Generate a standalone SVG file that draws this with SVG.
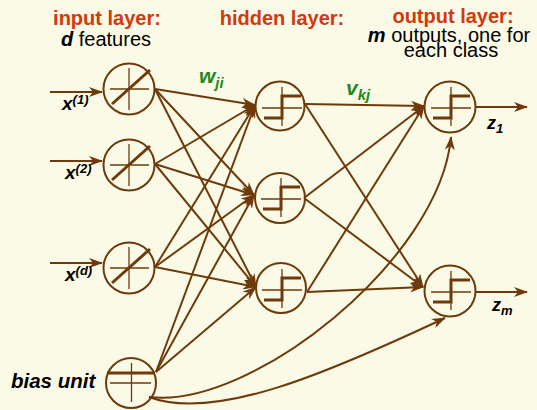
<svg xmlns="http://www.w3.org/2000/svg" xmlns:xlink="http://www.w3.org/1999/xlink" width="537" height="410" viewBox="0 0 537 410">
  <style>
    .bg { fill: #fafae6; }
    .node { fill: none; stroke: #6e3a0c; stroke-width: 2; }
    .thin { stroke: #6e3a0c; stroke-width: 1.3; fill: none; }
    .thick { stroke: #6e3a0c; stroke-width: 3; fill: none; }
    .edge { stroke: #6e3a0c; stroke-width: 2; fill: none; marker-end: url(#arrow); }
    .title { font-family: "Liberation Sans", Arial, sans-serif; font-size: 20px; font-weight: bold; fill: #d2390e; }
    .sub { font-family: "Liberation Sans", Arial, sans-serif; font-size: 20px; fill: #000; }
    .var { font-family: "Liberation Sans", Arial, sans-serif; font-weight: bold; font-style: italic; fill: #000; }
    .wt { font-family: "Liberation Sans", Arial, sans-serif; font-weight: bold; font-style: italic; fill: #1e8a1e; }
  </style>
  <defs>
    <marker id="arrow" viewBox="0 0 14 10" refX="13" refY="5" markerWidth="14" markerHeight="10" markerUnits="userSpaceOnUse" orient="auto">
      <path d="M0,0 L14,5 L0,10 L4,5 Z" fill="#6e3a0c"/>
    </marker>
    <!-- linear unit: axes plus identity diagonal -->
    <g id="linSym">
      <line class="thin" x1="-19" y1="0" x2="20" y2="0"/>
      <line class="thin" x1="0" y1="-21" x2="0" y2="21"/>
      <line class="thick" x1="-17" y1="15" x2="21" y2="-19"/>
    </g>
    <!-- threshold unit: axes plus step function -->
    <g id="stepSym">
      <line class="thin" x1="-19" y1="1" x2="21" y2="1"/>
      <line class="thin" x1="1" y1="-20" x2="1" y2="19"/>
      <path class="thick" d="M-17,11 H1 V-11 H20"/>
    </g>
  </defs>

  <rect class="bg" x="0" y="0" width="537" height="410"/>

  <!-- layer headings -->
  <g id="headings">
    <text class="title" x="107" y="25" text-anchor="middle">input layer:</text>
    <text class="sub" x="106" y="46" text-anchor="middle"><tspan font-weight="bold" font-style="italic">d</tspan> features</text>
    <text class="title" x="282" y="25" text-anchor="middle">hidden layer:</text>
    <text class="title" x="453" y="23" text-anchor="middle">output layer:</text>
    <text class="sub" x="449" y="42" text-anchor="middle" font-size="19.5"><tspan font-weight="bold" font-style="italic">m</tspan> outputs, one for</text>
    <text class="sub" x="451" y="57" text-anchor="middle" font-size="19.5">each class</text>
  </g>

  <!-- connectors -->
  <g id="connectors">
    <!-- external inputs -->
    <line class="edge" x1="50" y1="92" x2="102" y2="92"/>
    <line class="edge" x1="50" y1="161" x2="102" y2="161"/>
    <line class="edge" x1="50" y1="263" x2="102" y2="263"/>
    <!-- input to hidden -->
    <line class="edge" x1="155" y1="89" x2="255" y2="105"/>
    <line class="edge" x1="155" y1="89" x2="254" y2="195"/>
    <line class="edge" x1="155" y1="89" x2="256" y2="287"/>
    <line class="edge" x1="155" y1="164" x2="255" y2="105"/>
    <line class="edge" x1="155" y1="164" x2="254" y2="195"/>
    <line class="edge" x1="155" y1="164" x2="256" y2="287"/>
    <line class="edge" x1="155" y1="267" x2="255" y2="105"/>
    <line class="edge" x1="155" y1="267" x2="254" y2="195"/>
    <line class="edge" x1="155" y1="267" x2="256" y2="287"/>
    <line class="edge" x1="156" y1="372" x2="255" y2="105"/>
    <line class="edge" x1="156" y1="372" x2="254" y2="195"/>
    <line class="edge" x1="156" y1="372" x2="256" y2="287"/>
    <!-- hidden to output -->
    <line class="edge" x1="305" y1="104" x2="424" y2="106"/>
    <line class="edge" x1="305" y1="104" x2="423" y2="287"/>
    <line class="edge" x1="304" y1="198" x2="424" y2="106"/>
    <line class="edge" x1="304" y1="198" x2="423" y2="287"/>
    <line class="edge" x1="307" y1="292" x2="424" y2="106"/>
    <line class="edge" x1="307" y1="292" x2="423" y2="287"/>
    <!-- bias to output -->
    <path class="edge" d="M149,397 C250,410 440,260 451,137"/>
    <path class="edge" d="M149,397 C215,422 330,372 445,318"/>
    <!-- outputs -->
    <line class="edge" x1="476" y1="107" x2="527" y2="107"/>
    <line class="edge" x1="476" y1="292" x2="527" y2="292"/>
  </g>

  <!-- input units -->
  <g id="input1">
    <circle class="node" cx="129" cy="89" r="25.5"/>
    <use xlink:href="#linSym" x="129" y="89"/>
    <text class="var" x="62" y="110" font-size="19">x<tspan font-size="13" dy="-6">(1)</tspan></text>
  </g>
  <g id="input2">
    <circle class="node" cx="129" cy="165" r="25.5"/>
    <use xlink:href="#linSym" x="129" y="165"/>
    <text class="var" x="65" y="179" font-size="19">x<tspan font-size="13" dy="-6">(2)</tspan></text>
  </g>
  <g id="input3">
    <circle class="node" cx="129" cy="268" r="25.5"/>
    <use xlink:href="#linSym" x="129" y="268"/>
    <text class="var" x="65" y="281" font-size="19">x<tspan font-size="13" dy="-6">(d)</tspan></text>
  </g>
  <g id="bias">
    <circle class="node" cx="131" cy="383" r="25"/>
    <line class="thick" x1="107" y1="373" x2="155" y2="373"/>
    <line class="thin" x1="110" y1="383" x2="151" y2="383"/>
    <line class="thin" x1="131.5" y1="363" x2="131.5" y2="402"/>
    <text class="var" x="11" y="388" font-size="20.5">bias unit</text>
  </g>

  <!-- hidden units -->
  <g id="hidden1">
    <circle class="node" cx="280" cy="106" r="24.5"/>
    <use xlink:href="#stepSym" x="281" y="107"/>
  </g>
  <g id="hidden2">
    <circle class="node" cx="280" cy="198" r="25"/>
    <use xlink:href="#stepSym" x="280" y="198"/>
  </g>
  <g id="hidden3">
    <circle class="node" cx="281" cy="288" r="25"/>
    <use xlink:href="#stepSym" x="281" y="289"/>
  </g>

  <!-- output units -->
  <g id="output1">
    <circle class="node" cx="450" cy="107" r="25.5"/>
    <use xlink:href="#stepSym" x="450" y="107"/>
    <text class="var" x="487" y="129" font-size="18">z<tspan font-size="13" dy="4">1</tspan></text>
  </g>
  <g id="outputm">
    <circle class="node" cx="450" cy="291" r="25.5"/>
    <use xlink:href="#stepSym" x="450" y="291"/>
    <text class="var" x="492" y="311" font-size="18">z<tspan font-size="13" dy="4">m</tspan></text>
  </g>

  <!-- weight labels -->
  <g id="weights">
    <text class="wt" x="199" y="83" font-size="21">w<tspan font-size="15" dy="5">ji</tspan></text>
    <text class="wt" x="346" y="95" font-size="21">v<tspan font-size="15" dy="5">kj</tspan></text>
  </g>
</svg>
